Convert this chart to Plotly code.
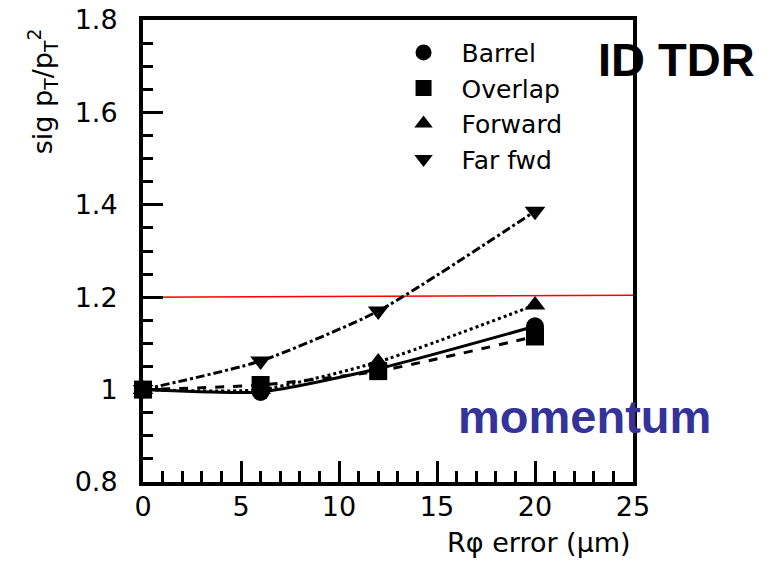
import plotly.graph_objects as go

# Rphi point resolution (micrometres) and relative pT resolution per region
rphi_error = [0, 6, 12, 20]
barrel = [1.0, 0.995, 1.045, 1.137]
overlap = [1.0, 1.01, 1.04, 1.115]
forward = [1.0, 1.0, 1.06, 1.183]
far_fwd = [1.0, 1.062, 1.17, 1.386]

# Reference level drawn across the plot
limit_x = [0, 25]
limit_y = [1.2, 1.204]

series = [
    ("Barrel", barrel, "circle", "solid"),
    ("Overlap", overlap, "square", "dash"),
    ("Forward", forward, "triangle-up", "dot"),
    ("Far fwd", far_fwd, "triangle-down", "dashdot"),
]

fig = go.Figure()

fig.add_trace(go.Scatter(x=limit_x, y=limit_y, mode="lines",
                         line=dict(color="red", width=1.5),
                         showlegend=False, hoverinfo="skip"))

for name, vals, sym, dash in series:
    fig.add_trace(go.Scatter(
        x=rphi_error, y=vals, mode="lines+markers",
        line=dict(color="black", width=3, dash=dash, shape="spline", smoothing=0.6),
        marker=dict(symbol=sym, size=18, color="black"),
        showlegend=False, cliponaxis=False))
    # legend entry showing the marker only
    fig.add_trace(go.Scatter(
        x=[None], y=[None], mode="markers", name=name,
        marker=dict(symbol=sym, size=18, color="black")))

tick_font = dict(family="DejaVu Sans", size=27, color="black")

fig.update_layout(
    width=769, height=565,
    margin=dict(l=143, r=136, t=20, b=83),
    plot_bgcolor="white", paper_bgcolor="white",
    showlegend=True,
    legend=dict(x=0.495, y=0.979, xanchor="left", yanchor="top",
                bgcolor="rgba(0,0,0,0)", borderwidth=0,
                font=dict(family="DejaVu Sans", size=25, color="black"),
                itemwidth=66),
    xaxis=dict(range=[0, 25], tickvals=[0, 5, 10, 15, 20, 25],
               ticks="inside", ticklen=21, tickwidth=2.5, tickcolor="black",
               minor=dict(dtick=1, ticks="inside", ticklen=11, tickwidth=2.5, tickcolor="black"),
               showline=True, linewidth=4, linecolor="black", mirror=True,
               showgrid=False, zeroline=False, tickfont=tick_font,
               ticklabelstandoff=-2, automargin=False),
    yaxis=dict(range=[0.8, 1.8], tickvals=[0.8, 1.0, 1.2, 1.4, 1.6, 1.8],
               ticktext=["0.8", "1", "1.2", "1.4", "1.6", "1.8"],
               ticks="inside", ticklen=20, tickwidth=2.5, tickcolor="black",
               minor=dict(dtick=0.05, ticks="inside", ticklen=10, tickwidth=2.5, tickcolor="black"),
               showline=True, linewidth=4, linecolor="black", mirror=True,
               showgrid=False, zeroline=False, tickfont=tick_font,
               ticklabelstandoff=16, automargin=False),
)

fig.add_annotation(x=-0.206, y=0.846, xref="paper", yref="paper",
                   xanchor="center", yanchor="middle",
                   text="sig p<sub>T</sub>/p<sub>T</sub><sup>2</sup>", textangle=-90,
                   showarrow=False,
                   font=dict(family="DejaVu Sans", size=27, color="black"))
fig.add_annotation(x=1.0, y=-0.132, xref="paper", yref="paper",
                   xanchor="right", yanchor="middle",
                   text="Rφ error (μm)", showarrow=False,
                   font=dict(family="DejaVu Sans", size=27, color="black"))
fig.add_annotation(x=1.088, y=0.915, xref="paper", yref="paper",
                   xanchor="center", yanchor="middle",
                   text="<b>ID TDR</b>", showarrow=False,
                   font=dict(family="Liberation Sans", size=47, color="black"))
fig.add_annotation(x=0.9, y=0.141, xref="paper", yref="paper",
                   xanchor="center", yanchor="middle",
                   text="<b>momentum</b>", showarrow=False,
                   font=dict(family="Liberation Sans", size=47, color="#333399"))

fig.write_html("out.html")
